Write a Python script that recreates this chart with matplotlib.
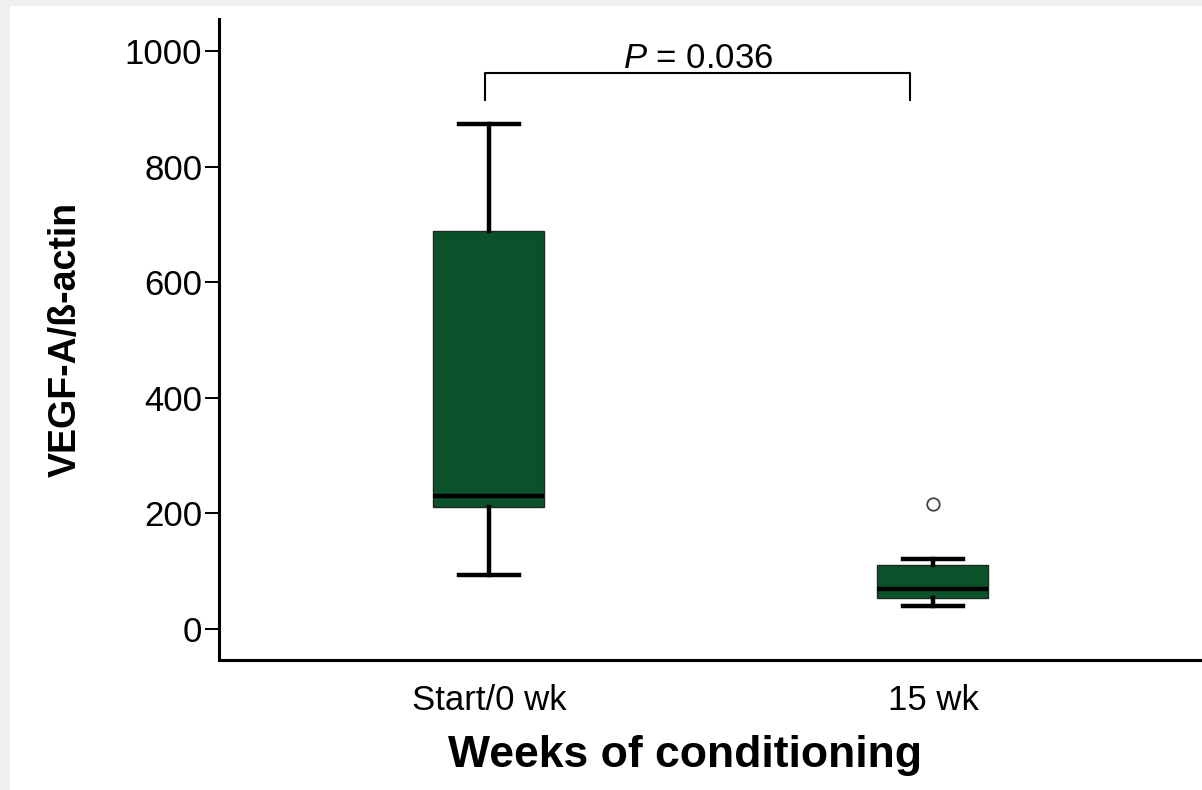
import matplotlib
matplotlib.use("Agg")
import matplotlib.pyplot as plt
from matplotlib.patches import Rectangle

plt.rcParams['font.family'] = ['Liberation Sans', 'DejaVu Sans']
plt.rcParams['mathtext.fontset'] = 'custom'
plt.rcParams['mathtext.it'] = 'Liberation Sans:italic'
plt.rcParams['mathtext.rm'] = 'Liberation Sans'

# box summary per group
groups = ['Start/0 wk', '15 wk']
whislo = [93, 40]
q1 = [211, 54]
med = [230, 69]
q3 = [689, 111]
whishi = [874, 121]
fliers = [[], [216]]

p_text = '$P$ = 0.036'

box_color = '#0b522a'

fig = plt.figure(figsize=(12.02, 7.90), dpi=100, facecolor='#f0f0f0')
# white panel inside the grey frame
fig.patches.append(Rectangle((10 / 1202, 0), 1, 1 - 6 / 790, transform=fig.transFigure,
                             facecolor='white', edgecolor='none', zorder=-1))

ax = fig.add_axes([219 / 1202, 1 - 660 / 790, 1 - 219 / 1202, (660 - 19) / 790])
ax.set_facecolor('none')

stats = []
for i in range(len(groups)):
    stats.append(dict(label=groups[i], whislo=whislo[i], q1=q1[i], med=med[i],
                      q3=q3[i], whishi=whishi[i], fliers=fliers[i]))

ax.bxp(stats, positions=[1, 2], widths=0.25, capwidths=0.135, patch_artist=True,
       boxprops=dict(facecolor=box_color, edgecolor='#1a2a1f', linewidth=1.0),
       medianprops=dict(color='black', linewidth=3.2, solid_capstyle='butt'),
       whiskerprops=dict(color='black', linewidth=3.2),
       capprops=dict(color='black', linewidth=3.2),
       flierprops=dict(marker='o', markersize=9, markerfacecolor='white',
                       markeredgecolor='#444444', markeredgewidth=1.3))

ax.set_xlim(0.392, 2.606)
ax.set_ylim(-53.6, 1055.4)
ax.set_yticks([0, 200, 400, 600, 800, 1000])

for s in ['top', 'right']:
    ax.spines[s].set_visible(False)
for s in ['left', 'bottom']:
    ax.spines[s].set_linewidth(2.2)

ax.tick_params(axis='y', length=10, width=1.4, labelsize=25, pad=2)
ax.tick_params(axis='x', length=0, labelsize=25, pad=17)

ax.set_ylabel('VEGF-A/ß-actin', fontsize=27, fontweight='bold')
ax.yaxis.set_label_coords(-0.138, 0.5)
ax.set_xlabel('Weeks of conditioning', fontsize=32, fontweight='bold')
ax.xaxis.set_label_coords(0.474, -0.117)

# significance bracket
bx0, bx1 = 0.99, 1.948
by_top, by_low = 962, 915
ax.plot([bx0, bx0, bx1, bx1], [by_low, by_top, by_top, by_low], color='black',
        linewidth=1.5, clip_on=False)
ax.text(1.47, 971, p_text, ha='center', va='baseline', fontsize=25)

fig.savefig('out.png', dpi=100, facecolor=fig.get_facecolor())
